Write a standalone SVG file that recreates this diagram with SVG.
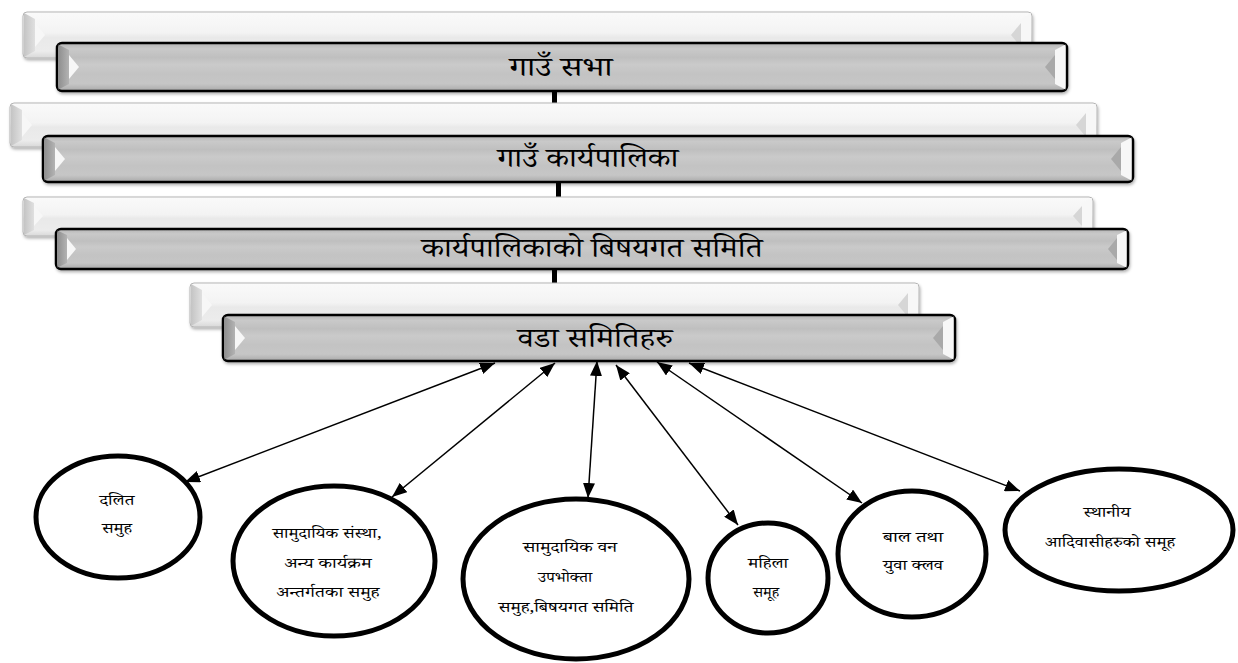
<svg xmlns="http://www.w3.org/2000/svg" width="1238" height="663" viewBox="0 0 1238 663">
<style>
.dev{font-family:"Noto Serif Devanagari","Noto Sans Devanagari","Lohit Devanagari","Mukta","FreeSerif","Noto Sans",serif;fill:#000;text-anchor:middle}
.bt{font-size:27px}
.et{font-size:15px}
.back{fill:url(#gBack);stroke:#b5b5b5;stroke-width:1}
.front{fill:url(#gFront);stroke:#000;stroke-width:2.5}
.bl{fill:url(#gBevL)}
.blb{fill:url(#gBevLB)}
.wt{fill:#f7f7f7}
.gt{fill:#a9a9a9}
.gtb{fill:#d6d6d6}
.ell{fill:#fff;stroke:#000;stroke-width:5}
.arr{stroke:#000;stroke-width:1.5;fill:none;marker-start:url(#ah);marker-end:url(#ah)}
.stub{fill:#000}
</style>
<defs>
<linearGradient id="gBack" x1="0" y1="0" x2="0" y2="1">
<stop offset="0" stop-color="#fafafa"/><stop offset="0.45" stop-color="#f3f3f3"/><stop offset="0.55" stop-color="#e9e9e9"/><stop offset="0.85" stop-color="#ececec"/><stop offset="1" stop-color="#d8d8d8"/>
</linearGradient>
<linearGradient id="gFront" x1="0" y1="0" x2="0" y2="1">
<stop offset="0" stop-color="#b4b4b4"/><stop offset="0.12" stop-color="#c9c9c9"/><stop offset="0.3" stop-color="#bfbfbf"/><stop offset="0.45" stop-color="#cacaca"/><stop offset="0.65" stop-color="#c3c3c3"/><stop offset="0.85" stop-color="#c6c6c6"/><stop offset="1" stop-color="#a9a9a9"/>
</linearGradient>
<linearGradient id="gBevL" x1="0" y1="0" x2="1" y2="0">
<stop offset="0" stop-color="#8f8f8f"/><stop offset="1" stop-color="#b3b3b3"/>
</linearGradient>
<linearGradient id="gBevLB" x1="0" y1="0" x2="1" y2="0">
<stop offset="0" stop-color="#c4c4c4"/><stop offset="1" stop-color="#e0e0e0"/>
</linearGradient>
<filter id="sh" x="-5%" y="-30%" width="110%" height="170%">
<feDropShadow dx="1" dy="2" stdDeviation="1.5" flood-color="#000" flood-opacity="0.3"/>
</filter>
<marker id="ah" viewBox="0 0 10 10" refX="10" refY="5" markerWidth="15" markerHeight="12" markerUnits="userSpaceOnUse" orient="auto-start-reverse" preserveAspectRatio="none">
<path d="M0,0 L10,5 L0,10 z" fill="#000"/>
</marker>
</defs>
<rect width="1238" height="663" fill="#fff"/>

<g id="stubs">
<rect class="stub" x="552" y="89" width="5" height="16"/>
<rect class="stub" x="556" y="180" width="5" height="18"/>
<rect class="stub" x="552" y="267" width="5" height="17"/>
</g>

<g id="level1-back">
<rect class="back" x="23" y="12" width="1009" height="46" rx="4" filter="url(#sh)"/>
<polygon class="blb" points="24,13 35,19 35,51 24,57"/>
<polygon class="wt" points="35,23 45,35 35,47"/>
<polygon class="wt" points="1031,13 1021,19 1021,51 1031,57"/>
<polygon class="gtb" points="1021,23 1011,35 1021,47"/>
</g>
<g id="node-gaun-sabha">
<rect class="front" x="57" y="43" width="1010" height="48" rx="5" filter="url(#sh)"/>
<polygon class="bl" points="58.5,44.5 69,50 69,84 58.5,89.5"/>
<polygon class="wt" points="69,55 79,67 69,79"/>
<polygon class="wt" points="1065.5,44.5 1055,50 1055,84 1065.5,89.5"/>
<polygon class="gt" points="1055,55 1045,67 1055,79"/>
<text class="dev bt" x="561" y="76" textLength="103" lengthAdjust="spacingAndGlyphs">गाउँ सभा</text>
</g>

<g id="level2-back">
<rect class="back" x="10" y="103" width="1087" height="44" rx="4" filter="url(#sh)"/>
<polygon class="blb" points="11,104 22,110 22,140 11,146"/>
<polygon class="wt" points="22,113 32,125 22,137"/>
<polygon class="wt" points="1096,104 1086,110 1086,140 1096,146"/>
<polygon class="gtb" points="1086,113 1076,125 1086,137"/>
</g>
<g id="node-gaun-karyapalika">
<rect class="front" x="43" y="136" width="1090" height="46" rx="5" filter="url(#sh)"/>
<polygon class="bl" points="44.5,137.5 55,143 55,175 44.5,180.5"/>
<polygon class="wt" points="55,147 65,159 55,171"/>
<polygon class="wt" points="1131.5,137.5 1121,143 1121,175 1131.5,180.5"/>
<polygon class="gt" points="1121,147 1111,159 1121,171"/>
<text class="dev bt" x="588" y="167" textLength="181" lengthAdjust="spacingAndGlyphs">गाउँ कार्यपालिका</text>
</g>

<g id="level3-back">
<rect class="back" x="23" y="197" width="1070" height="39" rx="4" filter="url(#sh)"/>
<polygon class="blb" points="24,198 34,203 34,230 24,235"/>
<polygon class="wt" points="34,206 43,216 34,226"/>
<polygon class="wt" points="1092,198 1082,203 1082,230 1092,235"/>
<polygon class="gtb" points="1082,206 1073,216 1082,226"/>
</g>
<g id="node-bishayagat-samiti">
<rect class="front" x="56" y="229" width="1072" height="40" rx="5" filter="url(#sh)"/>
<polygon class="bl" points="57.5,230.5 67,235 67,263 57.5,267.5"/>
<polygon class="wt" points="67,238 76,249 67,260"/>
<polygon class="wt" points="1126.5,230.5 1117,235 1117,263 1126.5,267.5"/>
<polygon class="gt" points="1117,238 1108,249 1117,260"/>
<text class="dev bt" x="592" y="257" textLength="341" lengthAdjust="spacingAndGlyphs">कार्यपालिकाको बिषयगत समिति</text>
</g>

<g id="level4-back">
<rect class="back" x="190" y="283" width="729" height="44" rx="4" filter="url(#sh)"/>
<polygon class="blb" points="191,284 202,290 202,320 191,326"/>
<polygon class="wt" points="202,293 212,305 202,317"/>
<polygon class="wt" points="918,284 908,290 908,320 918,326"/>
<polygon class="gtb" points="908,293 898,305 908,317"/>
</g>
<g id="node-wada-samiti">
<rect class="front" x="223" y="315" width="732" height="46" rx="5" filter="url(#sh)"/>
<polygon class="bl" points="224.5,316.5 235,322 235,354 224.5,359.5"/>
<polygon class="wt" points="235,326 245,338 235,350"/>
<polygon class="wt" points="953.5,316.5 943,322 943,354 953.5,359.5"/>
<polygon class="gt" points="943,326 933,338 943,350"/>
<text class="dev bt" x="595" y="347" textLength="155" lengthAdjust="spacingAndGlyphs">वडा समितिहरु</text>
</g>

<g id="connectors">
<line class="arr" x1="495" y1="363" x2="185" y2="482"/>
<line class="arr" x1="555" y1="363" x2="392" y2="497"/>
<line class="arr" x1="597" y1="361" x2="588" y2="498"/>
<line class="arr" x1="616" y1="365" x2="738" y2="525"/>
<line class="arr" x1="657" y1="362" x2="862" y2="503"/>
<line class="arr" x1="689" y1="363" x2="1020" y2="491"/>
</g>

<g id="node-dalit">
<ellipse class="ell" cx="118" cy="517" rx="82" ry="61"/>
<text class="dev et" x="117" y="505" textLength="35" lengthAdjust="spacingAndGlyphs">दलित</text>
<text class="dev et" x="117" y="533" textLength="30" lengthAdjust="spacingAndGlyphs">समुह</text>
</g>
<g id="node-samudayik-sanstha">
<ellipse class="ell" cx="334" cy="561" rx="101" ry="75"/>
<text class="dev et" x="327" y="538" textLength="109" lengthAdjust="spacingAndGlyphs">सामुदायिक संस्था,</text>
<text class="dev et" x="328" y="568" textLength="87" lengthAdjust="spacingAndGlyphs">अन्य कार्यक्रम</text>
<text class="dev et" x="328" y="597" textLength="103" lengthAdjust="spacingAndGlyphs">अन्तर्गतका समुह</text>
</g>
<g id="node-samudayik-ban">
<ellipse class="ell" cx="576" cy="579" rx="113" ry="80"/>
<text class="dev et" x="570" y="552" textLength="94" lengthAdjust="spacingAndGlyphs">सामुदायिक वन</text>
<text class="dev et" x="565" y="582" textLength="54" lengthAdjust="spacingAndGlyphs">उपभोक्ता</text>
<text class="dev et" x="566" y="612" textLength="135" lengthAdjust="spacingAndGlyphs">समुह,बिषयगत समिति</text>
</g>
<g id="node-mahila">
<ellipse class="ell" cx="768" cy="578" rx="60" ry="55"/>
<text class="dev et" x="768" y="568" textLength="40" lengthAdjust="spacingAndGlyphs">महिला</text>
<text class="dev et" x="766" y="597" textLength="26" lengthAdjust="spacingAndGlyphs">समूह</text>
</g>
<g id="node-bal-yuwa">
<ellipse class="ell" cx="912" cy="554" rx="74" ry="63"/>
<text class="dev et" x="913" y="542" textLength="60" lengthAdjust="spacingAndGlyphs">बाल तथा</text>
<text class="dev et" x="913" y="570" textLength="60" lengthAdjust="spacingAndGlyphs">युवा क्लव</text>
</g>
<g id="node-adiwasi">
<ellipse class="ell" cx="1119" cy="530" rx="114" ry="61"/>
<text class="dev et" x="1107" y="517" textLength="47" lengthAdjust="spacingAndGlyphs">स्थानीय</text>
<text class="dev et" x="1110" y="547" textLength="130" lengthAdjust="spacingAndGlyphs">आदिवासीहरुको समूह</text>
</g>
</svg>
